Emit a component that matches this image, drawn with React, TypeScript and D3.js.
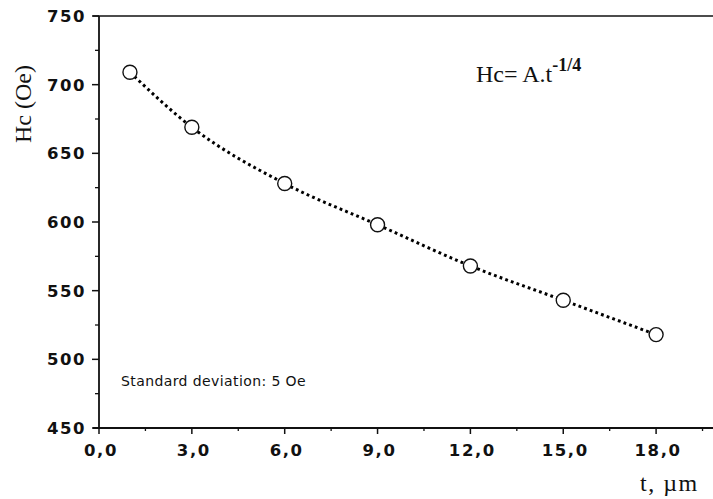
import React, { useRef, useEffect } from 'react';
import * as d3 from 'd3';

// thickness t (µm) vs coercive field Hc (Oe)
const thickness = [1, 3, 6, 9, 12, 15, 18];
const hc = [709, 669, 628, 598, 568, 543, 518];

const xTicks = [0, 3, 6, 9, 12, 15, 18];
const xMinorTicks = [1.5, 4.5, 7.5, 10.5, 13.5, 16.5, 19.5];
const yTicks = [450, 500, 550, 600, 650, 700, 750];
const yMinorTicks = [475, 525, 575, 625, 675, 725];

const App = () => {
  const svgRef = useRef<SVGSVGElement | null>(null);

  useEffect(() => {
    d3.select(svgRef.current).selectAll('*').remove();

    const width = 713;
    const height = 499;
    const left = 99;
    const top = 16;
    const bottom = 428;

    const x = d3.scaleLinear().domain([0, 20]).range([left, left + 20 * 30.95]);
    const y = d3.scaleLinear().domain([450, 750]).range([bottom, top]);

    const svg = d3.select(svgRef.current)
      .attr('width', width)
      .attr('height', height);

    const sans = '"DejaVu Sans", Verdana, sans-serif';
    const serif = '"Liberation Serif", "Times New Roman", serif';

    // frame: top line, left axis, bottom axis
    svg.append('line')
      .attr('x1', left - 6).attr('x2', width)
      .attr('y1', top).attr('y2', top)
      .attr('stroke', '#111').attr('stroke-width', 1.6);
    svg.append('line')
      .attr('x1', left).attr('x2', left)
      .attr('y1', top).attr('y2', bottom)
      .attr('stroke', '#111').attr('stroke-width', 1.8);
    svg.append('line')
      .attr('x1', left - 6).attr('x2', width)
      .attr('y1', bottom).attr('y2', bottom)
      .attr('stroke', '#111').attr('stroke-width', 2);

    // y ticks
    svg.selectAll('.ytick')
      .data(yTicks)
      .join('line')
      .attr('x1', left - 7).attr('x2', left)
      .attr('y1', d => y(d)).attr('y2', d => y(d))
      .attr('stroke', '#111').attr('stroke-width', 1.5);
    svg.selectAll('.yminor')
      .data(yMinorTicks)
      .join('line')
      .attr('x1', left - 4).attr('x2', left)
      .attr('y1', d => y(d)).attr('y2', d => y(d))
      .attr('stroke', '#111').attr('stroke-width', 1.3);
    svg.selectAll('.ylabel')
      .data(yTicks)
      .join('text')
      .attr('x', left - 13)
      .attr('y', d => y(d) + 6)
      .attr('text-anchor', 'end')
      .attr('font-family', sans)
      .attr('font-weight', 'bold')
      .attr('font-size', 16.5)
      .attr('letter-spacing', 1.5)
      .attr('fill', '#111')
      .text(d => d);

    // x ticks
    svg.selectAll('.xtick')
      .data(xTicks)
      .join('line')
      .attr('x1', d => x(d)).attr('x2', d => x(d))
      .attr('y1', bottom).attr('y2', bottom + 6)
      .attr('stroke', '#111').attr('stroke-width', 1.5);
    svg.selectAll('.xminor')
      .data(xMinorTicks)
      .join('line')
      .attr('x1', d => x(d)).attr('x2', d => x(d))
      .attr('y1', bottom).attr('y2', bottom + 3)
      .attr('stroke', '#111').attr('stroke-width', 1.3);
    svg.selectAll('.xlabel')
      .data(xTicks)
      .join('text')
      .attr('x', d => x(d) + 2)
      .attr('y', 456)
      .attr('text-anchor', 'middle')
      .attr('font-family', sans)
      .attr('font-weight', 'bold')
      .attr('font-size', 16.5)
      .attr('letter-spacing', 1.6)
      .attr('fill', '#111')
      .text(d => d.toFixed(1).replace('.', ','));

    // dotted fit curve
    const line = d3.line<number>()
      .x((d, i) => x(thickness[i]))
      .y(d => y(d))
      .curve(d3.curveMonotoneX);
    svg.append('path')
      .attr('d', line(hc))
      .attr('fill', 'none')
      .attr('stroke', '#000')
      .attr('stroke-width', 3)
      .attr('stroke-dasharray', '2.8,3.2');

    // measured points
    svg.selectAll('circle')
      .data(hc)
      .join('circle')
      .attr('cx', (d, i) => x(thickness[i]))
      .attr('cy', d => y(d))
      .attr('r', 7)
      .attr('fill', '#fff')
      .attr('stroke', '#111')
      .attr('stroke-width', 1.4);

    // axis titles
    svg.append('text')
      .attr('transform', 'translate(31, 104) rotate(-90)')
      .attr('text-anchor', 'middle')
      .attr('font-family', serif)
      .attr('font-size', 24)
      .attr('fill', '#111')
      .text('Hc (Oe)');
    svg.append('text')
      .attr('x', 640)
      .attr('y', 491)
      .attr('font-family', serif)
      .attr('font-size', 24)
      .attr('letter-spacing', 1.5)
      .attr('fill', '#111')
      .text('t, µm');

    // formula
    const f = svg.append('text')
      .attr('x', 476)
      .attr('y', 82)
      .attr('font-family', serif)
      .attr('font-size', 24)
      .attr('fill', '#111');
    f.append('tspan').text('Hc= A.t');
    f.append('tspan')
      .attr('dy', -11)
      .attr('font-size', 18)
      .attr('font-weight', 'bold')
      .text('-1/4');

    svg.append('text')
      .attr('x', 121)
      .attr('y', 386)
      .attr('font-family', sans)
      .attr('font-size', 14)
      .attr('letter-spacing', 0.4)
      .attr('fill', '#111')
      .text('Standard deviation: 5 Oe');
  }, []);

  return (
    <svg ref={svgRef} style={{ position: 'absolute', left: 0, top: 0 }}></svg>
  );
};

export default App;
